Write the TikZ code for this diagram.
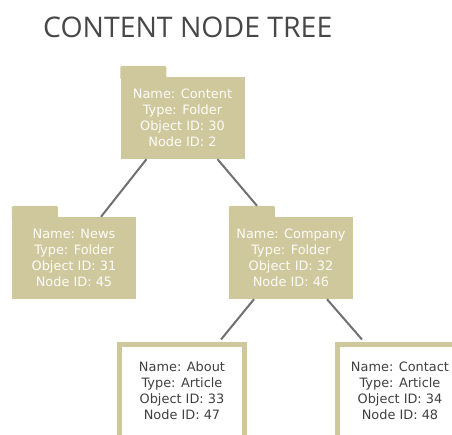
\documentclass[tikz,border=0pt]{standalone}
\usepackage{fontspec}
\setmainfont{DejaVu Sans}
\newfontfamily\titlefont{Open Sans}
\definecolor{folderTan}{RGB}{207,200,156}
\definecolor{edgeGray}{RGB}{112,112,112}
\begin{document}
\begin{tikzpicture}[x=1pt,y=1pt,
  folder/.style={fill=folderTan, text=white!95!folderTan, minimum width=124pt, minimum height=82pt,
    align=center, inner sep=0pt, font=\fontsize{12.9}{16}\selectfont},
  article/.style={draw=folderTan, line width=5pt, fill=white, text=black!75, minimum width=125pt,
    minimum height=93pt, align=center, inner sep=0pt, font=\fontsize{12.9}{16}\selectfont},
  tab/.style={fill=folderTan, rounded corners=1.5pt},
  link/.style={draw=edgeGray, line width=2pt}]
  \useasboundingbox (0,0) rectangle (452,434);
  \node[anchor=base west, inner sep=0pt, font=\titlefont\fontsize{28.4}{30}\selectfont, text=black!72] (title) at (43,396) {CONTENT NODE TREE};

  \node[folder] (content) at (182.5,316) {Name: Content\\Type: Folder\\Object ID: 30\\Node ID: 2};
  \node[folder] (news)    at (74,176)    {Name: News\\Type: Folder\\Object ID: 31\\Node ID: 45};
  \node[folder] (company) at (291,176)   {Name: Company\\Type: Folder\\Object ID: 32\\Node ID: 46};
  \node[article] (about)   at (182,43)   {Name: About\\Type: Article\\Object ID: 33\\Node ID: 47};
  \node[article] (contact) at (400,43)   {Name: Contact\\Type: Article\\Object ID: 34\\Node ID: 48};

  % folder tabs
  \foreach \f in {content,news,company}
    \fill[tab] (\f.north west) ++(0,-3) rectangle ++(46,14);

  \draw[link] ([xshift=-36pt]content.south) -- ([xshift=27pt]news.north);
  \draw[link] ([xshift=35pt]content.south) -- ([xshift=-34pt,yshift=11pt]company.north);
  \draw[link] ([xshift=-37pt]company.south) -- ([xshift=39pt,yshift=2.5pt]about.north);
  \draw[link] ([xshift=36pt]company.south) -- ([xshift=-38pt,yshift=2.5pt]contact.north);
\end{tikzpicture}
\end{document}
